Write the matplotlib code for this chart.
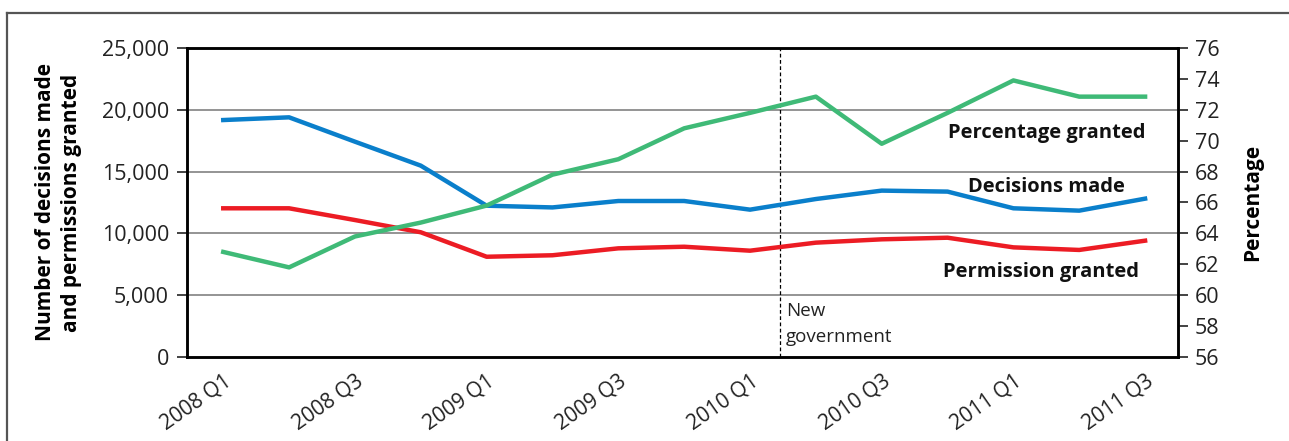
import matplotlib
matplotlib.use("Agg")
import matplotlib.pyplot as plt
from matplotlib.lines import Line2D

plt.rcParams["font.family"] = ["Open Sans", "DejaVu Sans"]

# Donnees
quarters = ["2008 Q1", "2008 Q2", "2008 Q3", "2008 Q4",
            "2009 Q1", "2009 Q2", "2009 Q3", "2009 Q4",
            "2010 Q1", "2010 Q2", "2010 Q3", "2010 Q4",
            "2011 Q1", "2011 Q2", "2011 Q3"]
decisions_made = [19170, 19390, 17420, 15480, 12240, 12100, 12620, 12620,
                  11920, 12780, 13460, 13380, 12030, 11840, 12810]
permission_granted = [12030, 12030, 11080, 10090, 8110, 8230, 8790, 8920,
                      8600, 9250, 9520, 9650, 8870, 8660, 9410]
percentage_granted = [62.8, 61.8, 63.8, 64.7, 65.8, 67.8, 68.8, 70.8,
                      71.8, 72.85, 69.8, 71.8, 73.9, 72.85, 72.85]
tick_labels = quarters[::2]
new_gov_pos = 8.45

BLUE = "#0a7fcb"
RED = "#ec1c24"
GREEN = "#3fba77"

fig = plt.figure(figsize=(12.89, 4.41), dpi=100)
ax = fig.add_axes([0.1451, 0.1905, 0.7688, 0.7007])
ax2 = ax.twinx()

x = list(range(len(quarters)))

# grille horizontale
for yv in [5000, 10000, 15000, 20000]:
    ax.axhline(yv, color="#777777", linewidth=1.1, zorder=1)

ax.axvline(new_gov_pos, color="black", linestyle=(0, (3, 2)), linewidth=0.9, zorder=1)

ax.plot(x, decisions_made, color=BLUE, linewidth=3.2, zorder=3)
ax.plot(x, permission_granted, color=RED, linewidth=3.2, zorder=3)
ax2.plot(x, percentage_granted, color=GREEN, linewidth=3.2, zorder=3)

ax.set_xlim(-0.55, 14.5)
ax.set_ylim(0, 25000)
ax2.set_ylim(56, 76)

ax.set_yticks(range(0, 25001, 5000))
ax.set_yticklabels([f"{v:,}" for v in range(0, 25001, 5000)])
ax2.set_yticks(range(56, 77, 2))

ax.set_xticks(x[::2])
ax.set_xticklabels(tick_labels, rotation=35, ha="right", rotation_mode="anchor")

ax.tick_params(axis="y", labelsize=15.5, length=7, width=1.2, pad=6, colors="#222222")
ax2.tick_params(axis="y", labelsize=15.5, length=7, width=1.2, pad=5, colors="#222222")
ax.tick_params(axis="x", labelsize=15, length=0, pad=10, colors="#222222")

for sp in ax.spines.values():
    sp.set_linewidth(1.8)
for sp in ax2.spines.values():
    sp.set_linewidth(1.8)

ax.set_ylabel("Number of decisions made\nand permissions granted",
              fontsize=15, fontweight="bold", linespacing=1.3, labelpad=14)
ax2.set_ylabel("Percentage", fontsize=15, fontweight="bold", labelpad=16)

# etiquettes des series
ax.text(14.0, 18100, "Percentage granted", fontsize=14.5, fontweight="bold",
        ha="right", va="center", color="#111111")
ax.text(13.7, 13750, "Decisions made", fontsize=14.5, fontweight="bold",
        ha="right", va="center", color="#111111")
ax.text(13.9, 6900, "Permission granted", fontsize=14.5, fontweight="bold",
        ha="right", va="center", color="#111111")
ax.text(new_gov_pos + 0.1, 2650, "New\ngovernment", fontsize=13.5,
        ha="left", va="center", linespacing=1.55, color="#222222")

# cadre exterieur
fig.add_artist(Line2D([0.0054, 1.0], [0.9705, 0.9705], color="#555555",
                      linewidth=1.6, transform=fig.transFigure))
fig.add_artist(Line2D([0.0054, 0.0054], [0.0, 0.9705], color="#555555",
                      linewidth=1.6, transform=fig.transFigure))

fig.savefig("out.png", dpi=100)
